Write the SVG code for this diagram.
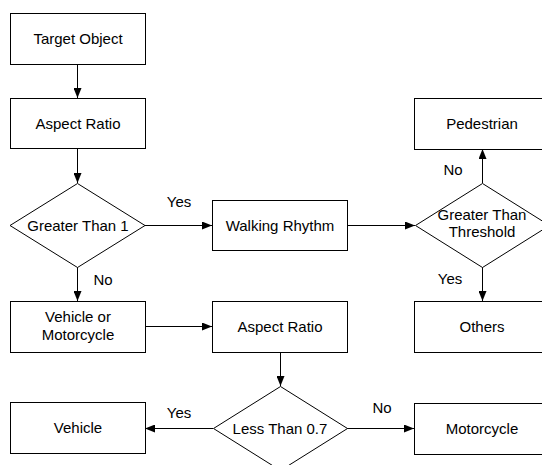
<svg xmlns="http://www.w3.org/2000/svg" width="542" height="465" viewBox="0 0 542 465">
<defs>
<style>
.n{fill:#fff;stroke:#000;stroke-width:1}
.t{font-family:"Liberation Sans",Arial,sans-serif;font-size:15px;fill:#000;text-anchor:middle}
.c{stroke:#000;stroke-width:1;fill:none;marker-end:url(#a)}
</style>
<marker id="a" viewBox="0 0 10 8" refX="10" refY="4" markerWidth="10" markerHeight="8" markerUnits="userSpaceOnUse" orient="auto">
<path d="M0,0 L10,4 L0,8 Z" fill="#000"/>
</marker>
</defs>
<rect width="542" height="465" fill="#fff"/>
<g id="connectors">
<line class="c" x1="77.5" y1="64" x2="77.5" y2="98"/>
<line class="c" x1="77.5" y1="148" x2="77.5" y2="183"/>
<line class="c" x1="145" y1="225.5" x2="212" y2="225.5"/>
<line class="c" x1="347" y1="225.5" x2="415" y2="225.5"/>
<line class="c" x1="482.5" y1="183" x2="482.5" y2="149"/>
<line class="c" x1="482.5" y1="267" x2="482.5" y2="301"/>
<line class="c" x1="77.5" y1="267" x2="77.5" y2="301"/>
<line class="c" x1="145" y1="326.5" x2="212" y2="326.5"/>
<line class="c" x1="280.5" y1="352" x2="280.5" y2="386"/>
<line class="c" x1="213" y1="428.5" x2="145" y2="428.5"/>
<line class="c" x1="347" y1="428.5" x2="414" y2="428.5"/>
</g>
<g id="labels">
<text class="t" x="179" y="207">Yes</text>
<text class="t" x="103" y="285">No</text>
<text class="t" x="453" y="175">No</text>
<text class="t" x="450" y="284">Yes</text>
<text class="t" x="179" y="418">Yes</text>
<text class="t" x="382" y="413">No</text>
</g>
<g id="target"><rect class="n" x="10.5" y="13.5" width="135" height="51"/><text class="t" x="78" y="44">Target Object</text></g>
<g id="aspect1"><rect class="n" x="10.5" y="98.5" width="135" height="50"/><text class="t" x="78" y="129">Aspect Ratio</text></g>
<g id="greater1"><polygon class="n" points="77.5,183.5 145,225.5 77.5,267.5 10,225.5"/><text class="t" x="78" y="231">Greater Than 1</text></g>
<g id="walking"><rect class="n" x="212.5" y="200.5" width="135" height="50"/><text class="t" x="280" y="231">Walking Rhythm</text></g>
<g id="pedestrian"><rect class="n" x="414.5" y="98.5" width="135" height="51"/><text class="t" x="482" y="129">Pedestrian</text></g>
<g id="threshold"><polygon class="n" points="482.5,183.5 549.5,225.5 482.5,267.5 415.5,225.5"/><text class="t" x="482" y="220">Greater Than</text><text class="t" x="482" y="237">Threshold</text></g>
<g id="others"><rect class="n" x="414.5" y="301.5" width="135" height="51"/><text class="t" x="482" y="332">Others</text></g>
<g id="vehmoto"><rect class="n" x="10.5" y="301.5" width="135" height="51"/><text class="t" x="78" y="322">Vehicle or</text><text class="t" x="78" y="340">Motorcycle</text></g>
<g id="aspect2"><rect class="n" x="212.5" y="301.5" width="135" height="51"/><text class="t" x="280" y="332">Aspect Ratio</text></g>
<g id="less"><polygon class="n" points="280.5,386.5 347.5,428.5 280.5,470.5 213.5,428.5"/><text class="t" x="280" y="434">Less Than 0.7</text></g>
<g id="vehicle"><rect class="n" x="10.5" y="402.5" width="135" height="51"/><text class="t" x="78" y="433">Vehicle</text></g>
<g id="motorcycle"><rect class="n" x="414.5" y="403.5" width="135" height="51"/><text class="t" x="482" y="434">Motorcycle</text></g>
</svg>
